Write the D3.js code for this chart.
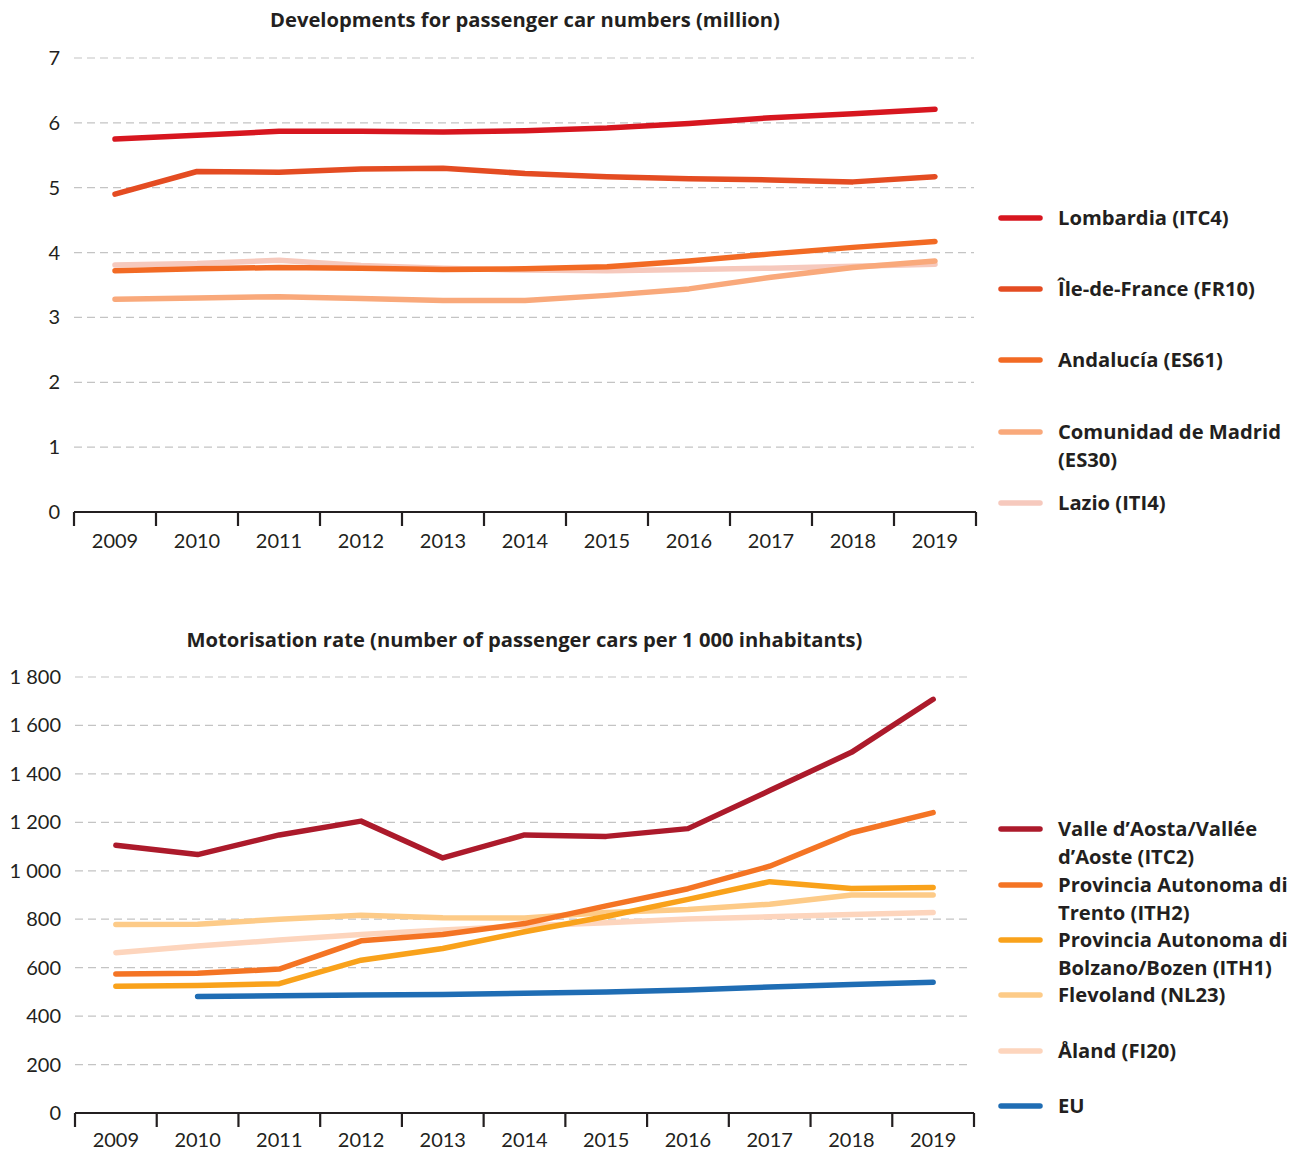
<!DOCTYPE html>
<html>
<head>
<meta charset="utf-8">
<script src="https://cdn.jsdelivr.net/npm/d3@7"></script>
<style>
  html, body { margin: 0; padding: 0; background: #fff; }
  svg { display: block; }
  text { font-family: Lato, "Open Sans", sans-serif; fill: #231f20; }
  text.bold { font-family: "Open Sans", Lato, sans-serif; font-weight: 700; }
</style>
</head>
<body>
<svg id="chart" width="1303" height="1151"></svg>
<script>
// ---------- DATA ----------
const years = ["2009","2010","2011","2012","2013","2014","2015","2016","2017","2018","2019"];

const topTitle = "Developments for passenger car numbers (million)";
const topTicks = [0, 1, 2, 3, 4, 5, 6, 7];
const topNames = ["Lombardia (ITC4)", "Île-de-France (FR10)", "Andalucía (ES61)", "Comunidad de Madrid (ES30)", "Lazio (ITI4)"];
const lombardia   = [5.75, 5.81, 5.87, 5.87, 5.86, 5.88, 5.92, 5.99, 6.08, 6.14, 6.21];
const ileDeFrance = [4.90, 5.25, 5.24, 5.29, 5.30, 5.22, 5.17, 5.14, 5.12, 5.09, 5.17];
const andalucia   = [3.72, 3.75, 3.77, 3.76, 3.74, 3.75, 3.78, 3.87, 3.98, 4.08, 4.17];
const madrid      = [3.28, 3.30, 3.32, 3.29, 3.26, 3.26, 3.34, 3.44, 3.62, 3.77, 3.87];
const lazio       = [3.81, 3.83, 3.88, 3.80, 3.76, 3.73, 3.72, 3.74, 3.76, 3.79, 3.82];

const bottomTitle = "Motorisation rate (number of passenger cars per 1 000 inhabitants)";
const bottomTicks = [0, 200, 400, 600, 800, 1000, 1200, 1400, 1600, 1800];
const bottomNames = ["Valle d’Aosta/Vallée d’Aoste (ITC2)", "Provincia Autonoma di Trento (ITH2)", "Provincia Autonoma di Bolzano/Bozen (ITH1)", "Flevoland (NL23)", "Åland (FI20)", "EU"];
const valleAosta = [1105, 1067, 1148, 1205, 1053, 1148, 1142, 1174, 1331, 1489, 1708];
const trento     = [574, 577, 594, 711, 737, 782, 855, 926, 1019, 1157, 1240];
const bolzano    = [523, 526, 534, 631, 679, 748, 811, 882, 955, 927, 931];
const flevoland  = [778, 779, 800, 816, 806, 805, 828, 840, 862, 900, 900];
const aland      = [662, 689, 714, 737, 756, 772, 785, 801, 810, 819, 828];
const eu         = [null, 481, 484, 487, 489, 494, 500, 508, 520, 530, 540];

// ---------- STYLE ----------
const topColors = ["#d7161f", "#e44c22", "#f26a24", "#f9a97b", "#f6c9bd"];
const bottomColors = ["#ac1a2b", "#f47424", "#f9a21b", "#fdcb88", "#fdd5bd", "#1f6db4"];

const svg = d3.select("#chart");
const fmt = v => d3.format(",")(v).replace(/,/g, " ");

function drawPanel(cfg) {
  const g = svg.append("g");
  const x = d3.scaleBand().domain(years).range([cfg.x0, cfg.x1]).paddingInner(0).paddingOuter(0);
  const y = d3.scaleLinear().domain([0, cfg.ymax]).range([cfg.yBottom, cfg.yTop]);

  // title
  g.append("text").attr("class", "bold").attr("x", (cfg.x0 + cfg.x1) / 2).attr("y", cfg.titleY)
    .attr("dy", "0.35em")
    .attr("text-anchor", "middle").attr("font-size", 20.2)
    .text(cfg.title);

  // gridlines
  g.selectAll("line.grid").data(cfg.ticks.filter(t => t > 0)).join("line")
    .attr("class", "grid")
    .attr("x1", cfg.x0).attr("x2", cfg.x1 - 2)
    .attr("y1", d => y(d)).attr("y2", d => y(d))
    .attr("stroke", "#c4c4c4").attr("stroke-width", 1.2).attr("stroke-dasharray", "8,5");

  // y labels
  g.selectAll("text.ylab").data(cfg.ticks).join("text")
    .attr("class", "ylab")
    .attr("x", cfg.x0 - 14).attr("y", d => y(d)).attr("dy", "0.35em")
    .attr("text-anchor", "end").attr("font-size", 20)
    .text(d => fmt(d));

  // x axis
  const boundaries = years.map(d => x(d)).concat([cfg.x1]);
  g.append("line").attr("x1", cfg.x0).attr("x2", cfg.x1)
    .attr("y1", y(0)).attr("y2", y(0)).attr("stroke", "#231f20").attr("stroke-width", 2.2);
  g.selectAll("line.tick").data(boundaries).join("line")
    .attr("class", "tick")
    .attr("x1", d => d).attr("x2", d => d)
    .attr("y1", y(0)).attr("y2", y(0) + 14)
    .attr("stroke", "#231f20").attr("stroke-width", 2.2);
  g.selectAll("text.xlab").data(years).join("text")
    .attr("class", "xlab")
    .attr("x", d => x(d) + x.bandwidth() / 2).attr("y", y(0) + cfg.xlabOffset).attr("dy", "0.35em")
    .attr("text-anchor", "middle").attr("font-size", 20)
    .text(d => d);

  // lines
  const line = d3.line()
    .defined(d => d.v != null)
    .x(d => x(d.year) + x.bandwidth() / 2)
    .y(d => y(d.v));
  cfg.drawOrder.forEach(i => {
    const pts = years.map((yr, k) => ({ year: yr, v: cfg.series[i][k] }));
    g.append("path").datum(pts)
      .attr("d", line).attr("fill", "none")
      .attr("stroke", cfg.colors[i]).attr("stroke-width", 5.5)
      .attr("stroke-linecap", "round").attr("stroke-linejoin", "round");
  });

  // legend
  cfg.legend.forEach((item, i) => {
    g.append("line").attr("x1", 1001).attr("x2", 1040)
      .attr("y1", item.y).attr("y2", item.y)
      .attr("stroke", cfg.colors[i]).attr("stroke-width", 5.5).attr("stroke-linecap", "round");
    item.lines.forEach((ln, j) => {
      g.append("text").attr("class", "bold").attr("x", 1058).attr("y", item.y + j * 28).attr("dy", "0.35em")
        .attr("font-size", 20.2).text(ln);
    });
  });
}

drawPanel({
  title: topTitle, titleY: 20, x0: 74, x1: 976, yTop: 58, yBottom: 512, ymax: 7,
  ticks: topTicks, colors: topColors, xlabOffset: 29,
  series: [lombardia, ileDeFrance, andalucia, madrid, lazio],
  drawOrder: [4, 3, 2, 1, 0],
  legend: [
    { y: 218, lines: [topNames[0]] },
    { y: 289, lines: [topNames[1]] },
    { y: 360, lines: [topNames[2]] },
    { y: 432, lines: ["Comunidad de Madrid", "(ES30)"] },
    { y: 503, lines: [topNames[4]] }
  ]
});

drawPanel({
  title: bottomTitle, titleY: 640, x0: 75, x1: 974, yTop: 677, yBottom: 1113, ymax: 1800,
  ticks: bottomTicks, colors: bottomColors, xlabOffset: 27,
  series: [valleAosta, trento, bolzano, flevoland, aland, eu],
  drawOrder: [5, 4, 3, 2, 1, 0],
  legend: [
    { y: 829, lines: ["Valle d’Aosta/Vallée", "d’Aoste (ITC2)"] },
    { y: 885, lines: ["Provincia Autonoma di", "Trento (ITH2)"] },
    { y: 940, lines: ["Provincia Autonoma di", "Bolzano/Bozen (ITH1)"] },
    { y: 995, lines: [bottomNames[3]] },
    { y: 1051, lines: [bottomNames[4]] },
    { y: 1106, lines: [bottomNames[5]] }
  ]
});
</script>
</body>
</html>
